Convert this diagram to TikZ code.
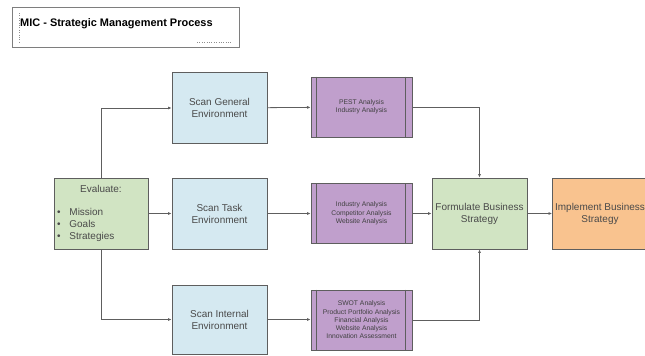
\documentclass[tikz,border=0pt]{standalone}
\usepackage{fontspec}
\setmainfont{Liberation Sans}
\usetikzlibrary{arrows.meta}
\definecolor{boxline}{HTML}{5E5E5E}
\definecolor{scanblue}{HTML}{D5E9F1}
\definecolor{evalgreen}{HTML}{D1E4C3}
\definecolor{taskpurple}{HTML}{C09FCC}
\definecolor{implorange}{HTML}{F9C38F}
\definecolor{textgray}{HTML}{4A4A4A}
\begin{document}
\begin{tikzpicture}[x=1bp,y=-1bp,
    box/.style={draw=boxline,line width=0.8pt,minimum width=95bp,minimum height=71bp,
      inner sep=2bp,align=center,text=textgray,font=\fontsize{10}{12}\selectfont},
    scanbox/.style={box,fill=scanblue},
    greenbox/.style={box,fill=evalgreen},
    toolbox/.style={draw=boxline,line width=0.8pt,fill=taskpurple,minimum width=101bp,
      minimum height=60bp,align=center,text=black!75,font=\fontsize{6.8}{8.3}\selectfont},
    link/.style={draw=boxline,line width=0.8pt,-{Latex[length=3.5pt,width=3pt]}}]
  \useasboundingbox (0,0) rectangle (645,355);
  % title box
  \draw[boxline!80,line width=0.6pt] (12,7) rectangle (239,47);
  \draw[boxline!70,dotted] (19,13) -- (19,42) (197,42) -- (232,42);
  \node[anchor=west,inner sep=0pt,font=\fontsize{11}{13}\bfseries] (title) at (20,24)
    {MIC - Strategic Management Process};
  % boxes
  \node[greenbox,minimum width=94bp,text width=88bp,inner xsep=3bp] (eval) at (101,213.5)
    {Evaluate:\\[15pt]\parbox{88bp}{\raggedright\fontsize{10}{12}\selectfont
      \textbullet\hspace{9pt}Mission\\\textbullet\hspace{9pt}Goals\\\textbullet\hspace{9pt}Strategies}};
  \node[scanbox] (gen) at (219.5,108) {Scan General\\Environment};
  \node[scanbox] (tsk) at (219.5,213.5) {Scan Task\\Environment};
  \node[scanbox,minimum height=69bp] (int) at (219.5,319.5) {Scan Internal\\Environment};
  \node[toolbox] (pest) at (361.5,107) {PEST Analysis\\Industry Analysis};
  \node[toolbox] (comp) at (361.5,213.5) {Industry Analysis\\Competitor Analysis\\Website Analysis};
  \node[toolbox] (swot) at (361.5,320) {SWOT Analysis\\Product Portfolio Analysis\\Financial Analysis\\Website Analysis\\Innovation Assessment};
  \node[greenbox] (form) at (479.5,213.5) {Formulate Business\\Strategy};
  \node[box,fill=implorange] (impl) at (600,213.5) {Implement Business\\Strategy};
  \foreach \n in {pest,comp,swot}
    \draw[boxline,line width=0.6pt] ([xshift=6bp]\n.north west) -- ([xshift=6bp]\n.south west)
      ([xshift=-7bp]\n.north east) -- ([xshift=-7bp]\n.south east);
  % connectors
  \draw[link] (eval.north) |- (gen.west);
  \draw[link] (eval.east) -- (tsk.west);
  \draw[link] (eval.south) |- (int.west);
  \draw[link] (gen) -- (pest);
  \draw[link] (tsk) -- (comp);
  \draw[link] (int.east) -- (int.east -| swot.west);
  \draw[link] (pest.east) -| (form.north);
  \draw[link] (comp) -- (form);
  \draw[link] (swot.east) -| (form.south);
  \draw[link] (form) -- (impl);
\end{tikzpicture}
\end{document}
